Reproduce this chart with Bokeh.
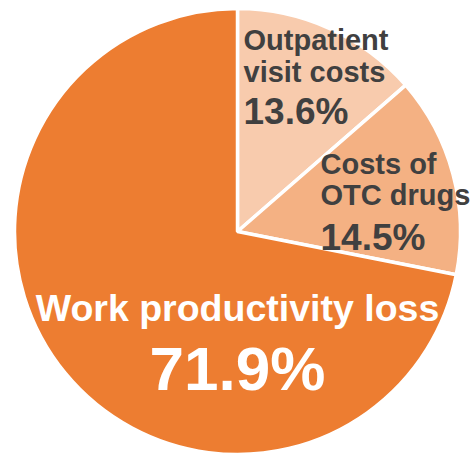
import math
from bokeh.plotting import figure
from bokeh.models import Range1d, ColumnDataSource
from bokeh.core.properties import value
from bokeh.embed import file_html
from bokeh.resources import INLINE

# Data
categories = ["Outpatient visit costs", "Costs of OTC drugs", "Work productivity loss"]
shares = [13.6, 14.5, 71.9]
colors = ["#F8CBAD", "#F4B183", "#ED7D31"]

W, H = 472, 456
p = figure(width=W, height=H, output_backend="svg", toolbar_location=None,
           x_range=Range1d(0, W), y_range=Range1d(0, H), min_border=0)
p.axis.visible = False
p.grid.visible = False
p.outline_line_color = None
p.background_fill_color = "white"

cx, cy, r = 237, H - 231, 223
total = sum(shares)
starts, ends = [], []
acc = 0.0
for s in shares:
    starts.append(math.pi / 2 - acc / total * 2 * math.pi)
    acc += s
    ends.append(math.pi / 2 - acc / total * 2 * math.pi)

src = ColumnDataSource(dict(start=starts, end=ends, color=colors, cat=categories))
p.wedge(x=cx, y=cy, radius=r, start_angle="start", end_angle="end",
        direction="clock", fill_color="color", line_color="white", line_width=3.5,
        source=src)

font = value("Liberation Sans")
def label(x, y, txt, size, color, align="left"):
    y_adj = y - 0.38 * size
    p.text(x=[x], y=[H - y_adj], text=[txt], text_font=font, text_font_style="bold",
           text_font_size=f"{size}px", text_color=color, text_baseline="alphabetic",
           text_align=align)

dark = "#404040"
label(243, 51, "Outpatient", 29, dark)
label(243, 83, "visit costs", 29, dark)
label(243, 125, f"{shares[0]}%", 37, dark)
label(320, 175, "Costs of", 29, dark)
label(320, 206, "OTC drugs", 29, dark)
label(320, 251, f"{shares[1]}%", 37, dark)
label(237, 322, "Work productivity loss", 37.5, "white", "center")
label(237, 392, f"{shares[2]}%", 62, "white", "center")

open("out.html", "w").write(file_html(p, INLINE))
